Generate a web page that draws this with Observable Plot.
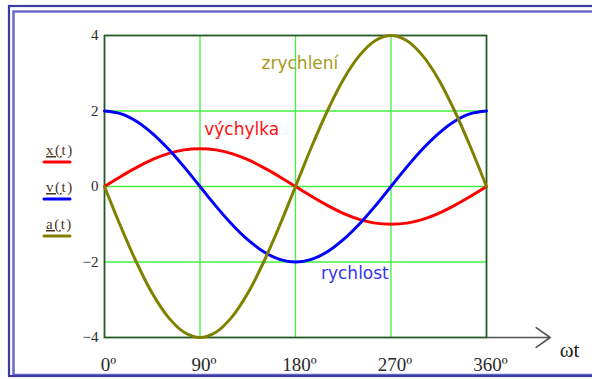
<!DOCTYPE html>
<html>
<head>
<meta charset="utf-8">
<script src="https://cdn.jsdelivr.net/npm/d3@7"></script>
<script src="https://cdn.jsdelivr.net/npm/@observablehq/plot@0.6"></script>
<style>
  html, body { margin: 0; padding: 0; background: #fff; }
  svg { display: block; }
</style>
</head>
<body>
<div id="chart"></div>
<script>
// angle ωt in degrees
const angles = [0,15,30,45,60,75,90,105,120,135,150,165,180,195,210,225,240,255,270,285,300,315,330,345,360];
// x(t) – výchylka
const xValues = [0,0.26,0.5,0.71,0.87,0.97,1,0.97,0.87,0.71,0.5,0.26,0,-0.26,-0.5,-0.71,-0.87,-0.97,-1,-0.97,-0.87,-0.71,-0.5,-0.26,0];
// v(t) – rychlost
const vValues = [2,1.93,1.73,1.41,1,0.52,0,-0.52,-1,-1.41,-1.73,-1.93,-2,-1.93,-1.73,-1.41,-1,-0.52,0,0.52,1,1.41,1.73,1.93,2];
// a(t) – zrychlení
const aValues = [0,-1.04,-2,-2.83,-3.46,-3.86,-4,-3.86,-3.46,-2.83,-2,-1.04,0,1.04,2,2.83,3.46,3.86,4,3.86,3.46,2.83,2,1.04,0];

const xTicks = [0,90,180,270,360];
const yTicks = [-4,-2,0,2,4];
const seriesNames = ["x(t)","v(t)","a(t)"];
const seriesColors = ["#ff0000","#0000ff","#808000"];

const annotations = [
  {text:"zrychlení", x:148, y:3.25, color:"#a89a20"},
  {text:"výchylka", x:94, y:1.5, color:"#ff1010"},
  {text:"rychlost", x:204, y:-2.3, color:"#3535f0"}
];
const axisArrow = [{x1:360, y1:-4, x2:420, y2:-4}];
const axisLabel = [{text:"ωt", x:429, y:-4.35}];

const series = [xValues, vValues, aValues];
const rows = series.flatMap((vals, i) => vals.map((v, j) => ({angle: angles[j], value: v, name: seriesNames[i]})));

const W = 592, H = 379;
const chart = Plot.plot({
  width: W, height: H,
  marginLeft: 104, marginRight: 106, marginTop: 35, marginBottom: 42,
  style: {background: "transparent", overflow: "visible"},
  x: {domain: [0,360]},
  y: {domain: [-4,4]},
  color: {domain: seriesNames, range: seriesColors},
  marks: [
    Plot.ruleX([90,180,270], {stroke: "#40f040", strokeWidth: 1.3}),
    Plot.ruleY([-2,0,2], {stroke: "#40f040", strokeWidth: 1.3}),
    Plot.frame({stroke: "#245a24", strokeWidth: 1.8}),
    Plot.axisY({ticks: yTicks, tickSize: 0, tickPadding: 6, fontSize: 15, fontFamily: "Liberation Serif", fill: "#2a2a2a",
      tickFormat: d => d < 0 ? "\u2212" + (-d) : String(d)}),
    Plot.axisX({ticks: xTicks, tickSize: 0, tickPadding: 20, dx: 4, fontSize: 19, fontFamily: "Liberation Serif", fill: "#2a2a2a",
      tickFormat: d => d + "\u00BA"}),
    Plot.arrow(axisArrow, {x1:"x1", y1:"y1", x2:"x2", y2:"y2", stroke: "#555", strokeWidth: 1.6, headLength: 16, headAngle: 70, clip: false}),
    Plot.text(axisLabel, {x:"x", y:"y", text:"text", textAnchor:"start", fontSize: 21, fontFamily: "Liberation Serif", fill: "#222", clip: false}),
    Plot.line(rows, {x: "angle", y: "value", z: "name", stroke: "name", strokeWidth: 3, curve: "catmull-rom"}),
    Plot.text(annotations, {x:"x", y:"y", text:"text", fill: d => d.color, textAnchor: "start", fontSize: 17, fontFamily: "DejaVu Sans"})
  ]
});
document.getElementById("chart").appendChild(chart);

const svg = d3.select(chart);
// outer double blue border
svg.insert("rect", ":first-child").attr("x", 9).attr("y", 6).attr("width", 620).attr("height", 370)
  .attr("fill", "none").attr("stroke", "#3c3ca6").attr("stroke-width", 2.2);
svg.insert("rect", ":first-child").attr("x", 13.5).attr("y", 11.5).attr("width", 620).attr("height", 363.5)
  .attr("fill", "none").attr("stroke", "#6a6ac8").attr("stroke-width", 2.5);

// legend (Mathcad trace labels)
const legendY = [155, 192, 229];
seriesNames.forEach((name, i) => {
  const t = svg.append("text").attr("x", 46).attr("y", legendY[i])
    .attr("text-anchor", "start")
    .attr("font-family", "Liberation Serif").attr("font-size", 15).attr("fill", "#4a3420")
    .attr("letter-spacing", 1.5);
  t.append("tspan").attr("text-decoration", "underline").text(name.slice(0, 2));
  t.append("tspan").text(name.slice(2));
  svg.append("line").attr("x1", 44).attr("x2", 70).attr("y1", legendY[i] + 7).attr("y2", legendY[i] + 7)
    .attr("stroke", seriesColors[i]).attr("stroke-width", 3).attr("stroke-linecap", "round");
});
</script>
</body>
</html>
